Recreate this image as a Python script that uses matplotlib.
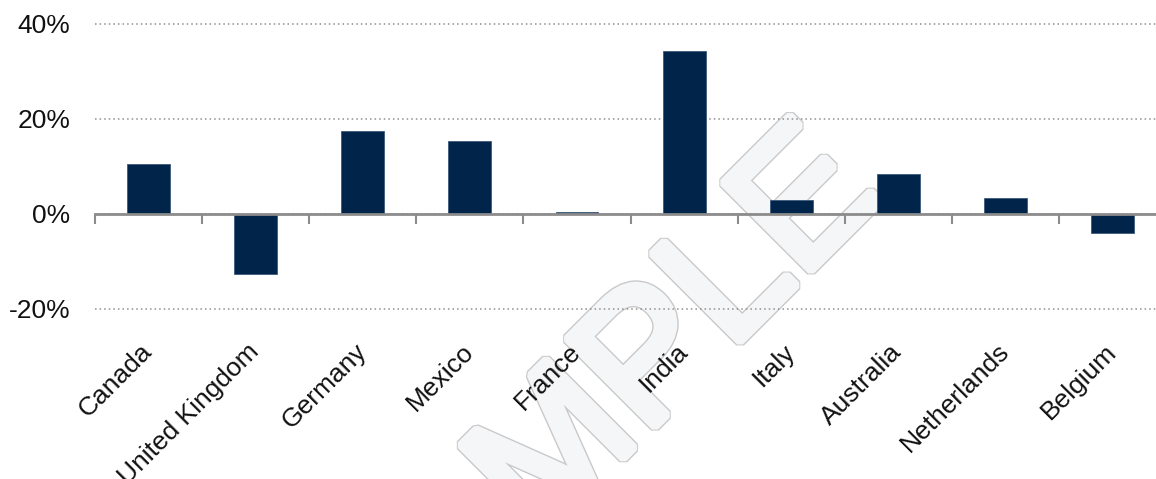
import matplotlib
matplotlib.use('Agg')
import matplotlib.pyplot as plt
import matplotlib.patheffects as pe
from matplotlib.ticker import FixedLocator, FuncFormatter

plt.rcParams['font.family'] = ['Liberation Sans', 'DejaVu Sans']

# data
countries = ['Canada', 'United Kingdom', 'Germany', 'Mexico', 'France',
             'India', 'Italy', 'Australia', 'Netherlands', 'Belgium']
growth = [10.6, -12.6, 17.5, 15.3, 0.4, 34.4, 3.0, 8.5, 3.3, -4.0]
y_ticks = [-20, 0, 20, 40]

fig = plt.figure(figsize=(11.56, 4.79), dpi=100)
ax = fig.add_axes([0.0822, 0.355, 0.9265, 0.595])
ax.patch.set_alpha(0)

# watermark behind the chart
fig.text(0.542, 0.050, 'SAMPLE', fontsize=130, rotation=45,
         ha='center', va='baseline', rotation_mode='anchor',
         color='#f5f6f8', zorder=-1,
         path_effects=[pe.SimplePatchShadow(offset=(2, -2), shadow_rgbFace='#666666', alpha=0.4),
                       pe.Stroke(linewidth=8, foreground='#c9c9c9', joinstyle='bevel'),
                       pe.Stroke(linewidth=6, foreground='#f5f6f8', joinstyle='bevel'),
                       pe.Normal()])

x = list(range(len(countries)))
ax.bar(x, growth, width=0.4, color='#00244a', edgecolor='#3d5a7a',
       linewidth=0.6, zorder=3)

ax.set_xlim(-0.5, len(countries) - 0.5)
ax.set_ylim(-20, 40)

# gridlines
ax.set_yticks(y_ticks)
ax.yaxis.set_major_formatter(FuncFormatter(lambda v, p: '%d%%' % v))
ax.grid(axis='y', color='#8f8f8f', linestyle=(0, (1, 2)), linewidth=1.1, zorder=1)
for gl in ax.get_ygridlines():
    gl.set_clip_on(False)
ax.tick_params(axis='y', length=0, pad=18, labelsize=19, labelcolor='#111111')

# zero axis line with category boundary ticks
for s in ['left', 'right', 'bottom']:
    ax.spines[s].set_visible(False)
ax.spines['top'].set_position(('data', 0))
ax.spines['top'].set_color('#8c8c8c')
ax.spines['top'].set_linewidth(2)
ax.spines['top'].set_zorder(4)

ax.set_xticks(x)
ax.xaxis.set_minor_locator(FixedLocator([i - 0.5 for i in range(len(countries) + 1)]))
ax.set_xticklabels(countries, rotation=45, ha='right', va='center',
                   rotation_mode='anchor')
ax.tick_params(axis='x', which='major', length=0, pad=28, labelsize=19,
               labelcolor='#111111', top=False, bottom=True)
ax.tick_params(axis='x', which='minor', top=True, bottom=False, direction='in',
               length=7, width=1.5, color='#8c8c8c')

fig.savefig('out.png', dpi=100)
